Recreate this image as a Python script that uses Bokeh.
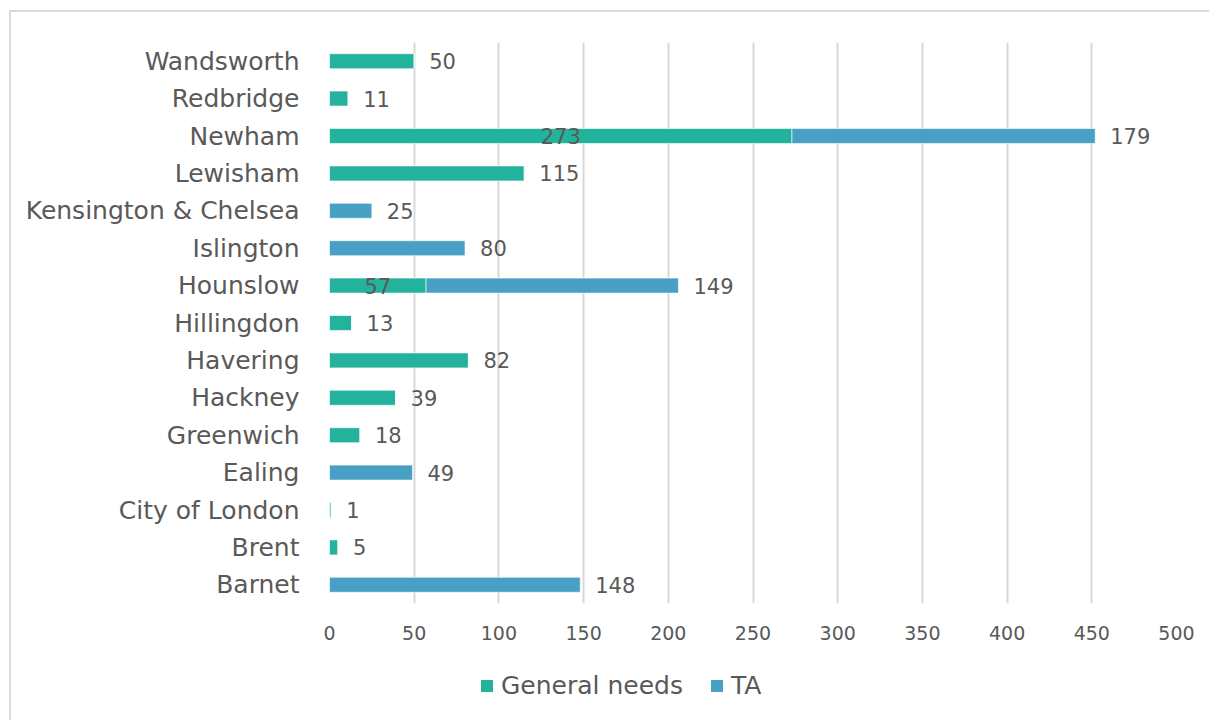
from bokeh.plotting import figure
from bokeh.layouts import column
from bokeh.models import ColumnDataSource, FactorRange, Legend, LegendItem, SingleIntervalTicker
from bokeh.core.properties import value
from bokeh.embed import file_html
from bokeh.resources import INLINE

boroughs = ["Wandsworth", "Redbridge", "Newham", "Lewisham", "Kensington & Chelsea",
            "Islington", "Hounslow", "Hillingdon", "Havering", "Hackney", "Greenwich",
            "Ealing", "City of London", "Brent", "Barnet"]
general_needs = [50, 11, 273, 115, 0, 0, 57, 13, 82, 39, 18, 0, 1, 5, 0]
ta = [0, 0, 179, 0, 25, 80, 149, 0, 0, 0, 0, 49, 0, 0, 148]
series_names = ["General needs", "TA"]

GN_COLOR = "#23B39C"
TA_COLOR = "#48A1C4"
TXT = "#595959"
FONT = "DejaVu Sans"

factors = boroughs[::-1]

p = figure(width=1198, height=648, y_range=FactorRange(factors=factors),
           x_range=(0, 500), output_backend="svg", toolbar_location=None,
           min_border_left=318, min_border_right=33, min_border_top=30, min_border_bottom=57)
p.outline_line_color = None

ta_right = [g + t for g, t in zip(general_needs, ta)]

src = ColumnDataSource(dict(y=boroughs, gn=general_needs, ta_l=general_needs, ta_r=ta_right))
p.hbar(y="y", left=0, right="gn", height=0.4, source=src,
       fill_color=GN_COLOR, line_color="white", line_width=1, line_alpha=0.6)
p.hbar(y="y", left="ta_l", right="ta_r", height=0.4, source=src,
       fill_color=TA_COLOR, line_color="white", line_width=1, line_alpha=0.6)

# data labels
cx, cy, ct = [], [], []   # centered labels (GN segment in stacked bars)
ex, ey, et = [], [], []   # labels after bar end
for b, g, t in zip(boroughs, general_needs, ta):
    if g > 0 and t > 0:
        cx.append(g / 2); cy.append(b); ct.append(str(g))
        ex.append(g + t); ey.append(b); et.append(str(t))
    elif g > 0:
        ex.append(g); ey.append(b); et.append(str(g))
    elif t > 0:
        ex.append(t); ey.append(b); et.append(str(t))

p.text(x=cx, y=cy, text=ct, text_align="center", text_baseline="middle",
       text_font=value(FONT), text_font_size="21px", text_color=TXT, y_offset=0)
p.text(x=ex, y=ey, text=et, text_align="left", text_baseline="middle",
       text_font=value(FONT), text_font_size="21px", text_color=TXT, x_offset=15, y_offset=0)

p.xaxis.ticker = SingleIntervalTicker(interval=50)
p.xgrid.ticker = SingleIntervalTicker(interval=50)
p.xgrid.grid_line_color = "#d9d9d9"
p.xgrid.grid_line_width = 2
p.ygrid.grid_line_color = None
p.xaxis.axis_line_color = None
p.yaxis.axis_line_color = None
p.xaxis.major_tick_line_color = None
p.xaxis.minor_tick_line_color = None
p.yaxis.major_tick_line_color = None
p.yaxis.minor_tick_line_color = None
p.xaxis.major_label_text_font = FONT
p.xaxis.major_label_text_font_size = "19px"
p.xaxis.major_label_text_color = TXT
p.xaxis.major_label_standoff = 16
p.yaxis.major_label_text_font = FONT
p.yaxis.major_label_text_font_size = "25px"
p.yaxis.major_label_text_color = TXT
p.yaxis.major_label_standoff = 24

# legend strip below the chart (its frame is aligned with the chart frame)
pl = figure(width=1198, height=60, output_backend="svg", toolbar_location=None,
            min_border=0, x_range=(0, 1), y_range=(0, 1))
pl.axis.visible = False
pl.grid.visible = False
pl.outline_line_color = None
lg_gn = pl.hbar(y=[0.5], left=[0], right=[0], height=0, fill_color=GN_COLOR, line_color=None)
lg_ta = pl.hbar(y=[0.5], left=[0], right=[0], height=0, fill_color=TA_COLOR, line_color=None)
legend = Legend(items=[LegendItem(label=series_names[0], renderers=[lg_gn]),
                       LegendItem(label=series_names[1], renderers=[lg_ta])],
                orientation="horizontal", location=(150, 20), margin=0, padding=0,
                label_text_font=FONT, label_text_font_size="25px", label_text_color=TXT,
                glyph_width=15, glyph_height=15, spacing=26, label_standoff=7,
                border_line_color=None, background_fill_alpha=0)
pl.add_layout(legend, "center")

layout = column(p, pl, spacing=0)
layout.margin = (10, 0, 0, 9)
layout.styles = {"border-top": "2px solid #d9d9d9", "border-left": "2px solid #d9d9d9"}

open("out.html", "w").write(file_html(layout, INLINE))
